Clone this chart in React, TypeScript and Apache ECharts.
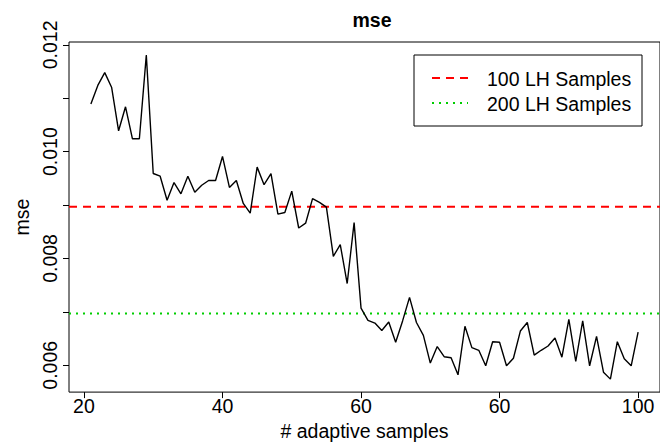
import React, { useEffect, useRef } from "react";
import * as echarts from "echarts";

const firstSample = 21;
const mseValues = [
  0.01089, 0.01124, 0.01148, 0.0112, 0.01039, 0.01084, 0.01024, 0.01024, 0.01181, 0.00959,
  0.00954, 0.00909, 0.00942, 0.00921, 0.00954, 0.00924, 0.00937, 0.00946, 0.00946, 0.00991,
  0.00933, 0.00946, 0.00903, 0.00885, 0.00971, 0.00938, 0.00959, 0.00883, 0.00886, 0.00926,
  0.00857, 0.00866, 0.00912, 0.00905, 0.00896, 0.00804, 0.00826, 0.00753, 0.00867, 0.00707,
  0.00684, 0.00679, 0.00665, 0.00681, 0.00643, 0.00683, 0.00727, 0.0068, 0.00656, 0.00604,
  0.00635, 0.00616, 0.00614, 0.00582, 0.00673, 0.00633, 0.00628, 0.00599, 0.00644, 0.00643,
  0.00599, 0.00613, 0.00664, 0.0068, 0.00619, 0.00628, 0.00636, 0.00651, 0.00615, 0.00686,
  0.00607, 0.00683, 0.00599, 0.00654, 0.00587, 0.00574, 0.00644, 0.00612, 0.00599, 0.00662,
];
const refNames = ["100 LH Samples", "200 LH Samples"];
const refValues = [0.00897, 0.00697];
const refColors = ["#ff0000", "#00cd00"];
const xTickValues = [20, 40, 60, 80, 100];
const xTickLabels = ["20", "40", "60", "60", "100"];
const yTickValues = [0.006, 0.007, 0.008, 0.009, 0.01, 0.011, 0.012];
const yLabelValues = [0.006, 0.008, 0.01, 0.012];
const X_MIN = 17.84;
const X_MAX = 103.16;

const FONT = "'Liberation Sans', Arial, Helvetica, sans-serif";
const FS = 19.5;

export default function App() {
  const ref = useRef<HTMLDivElement>(null);
  useEffect(() => {
    if (!ref.current) return;
    const chart = echarts.init(ref.current, undefined, { renderer: "svg" });
    const data = mseValues.map((v, i) => [firstSample + i, v]);
    chart.setOption({
      animation: false,
      backgroundColor: "#fff",
      textStyle: { fontFamily: FONT },
      title: {
        text: "mse",
        left: 367,
        top: 5,
        textAlign: "center",
        textStyle: { fontFamily: FONT, fontSize: FS, fontWeight: "bold", color: "#000" },
      },
      grid: {
        left: 69,
        right: -4,
        top: 42,
        bottom: 49,
        show: true,
        borderColor: "#000",
        borderWidth: 1,
        backgroundColor: "transparent",
      },
      xAxis: {
        type: "value",
        min: X_MIN,
        max: X_MAX,
        name: "# adaptive samples",
        nameLocation: "middle",
        nameGap: 28,
        nameTextStyle: { fontFamily: FONT, fontSize: FS, color: "#000", verticalAlign: "top" },
        axisLine: { show: false },
        splitLine: { show: false },
        axisTick: {
          show: true,
          inside: false,
          length: 6,
          customValues: xTickValues,
          lineStyle: { color: "#000", width: 1 },
        },
        axisLabel: {
          show: true,
          margin: 4,
          customValues: xTickValues,
          fontFamily: FONT,
          fontSize: FS,
          color: "#000",
          formatter: (v: number) => {
            const idx = xTickValues.indexOf(v);
            return idx >= 0 ? xTickLabels[idx] : "";
          },
        },
      },
      yAxis: {
        type: "value",
        min: 0.005497,
        max: 0.012053,
        name: "mse",
        nameLocation: "middle",
        nameGap: 32,
        nameRotate: 90,
        nameTextStyle: { fontFamily: FONT, fontSize: FS, color: "#000" },
        axisLine: { show: false },
        splitLine: { show: false },
        axisTick: {
          show: true,
          inside: false,
          length: 6,
          customValues: yTickValues,
          lineStyle: { color: "#000", width: 1 },
        },
        axisLabel: {
          show: true,
          rotate: 90,
          margin: 9,
          customValues: yLabelValues,
          fontFamily: FONT,
          fontSize: FS,
          color: "#000",
          formatter: (v: number) => v.toFixed(3),
        },
      },
      series: [
        {
          type: "line",
          name: "mse",
          data,
          symbol: "none",
          lineStyle: { color: "#000", width: 1.4 },
          itemStyle: { color: "#000" },
          z: 3,
        },
        ...refNames.map((name, i) => ({
          type: "line",
          name,
          data: [
            [X_MIN, refValues[i]],
            [X_MAX, refValues[i]],
          ],
          symbol: "none",
          silent: true,
          lineStyle: {
            color: refColors[i],
            width: 2,
            type: i === 0 ? [8, 6] : [2, 5],
          },
          itemStyle: { color: refColors[i] },
          z: 2,
        })),
      ],
      graphic: [
        {
          type: "rect",
          shape: { x: 414, y: 55, width: 228, height: 71 },
          style: { fill: "#fff", stroke: "#000", lineWidth: 1 },
          z: 10,
        },
        ...refNames.flatMap((name, i) => [
          {
            type: "line",
            shape: { x1: 432, y1: 78 + i * 25, x2: 468, y2: 78 + i * 25 },
            style: {
              stroke: refColors[i],
              lineWidth: 2,
              lineDash: i === 0 ? [8, 6] : [2, 5],
            },
            z: 11,
          },
          {
            type: "text",
            x: 487,
            y: 79 + i * 25,
            style: {
              text: name,
              fontFamily: FONT,
              fontSize: FS,
              fill: "#000",
              textAlign: "left",
              textVerticalAlign: "middle",
            },
            z: 11,
          },
        ]),
      ],
    });
    return () => chart.dispose();
  }, []);
  return (
    <div
      ref={ref}
      style={{ position: "fixed", left: 0, top: 0, width: 660, height: 446 }}
    />
  );
}
